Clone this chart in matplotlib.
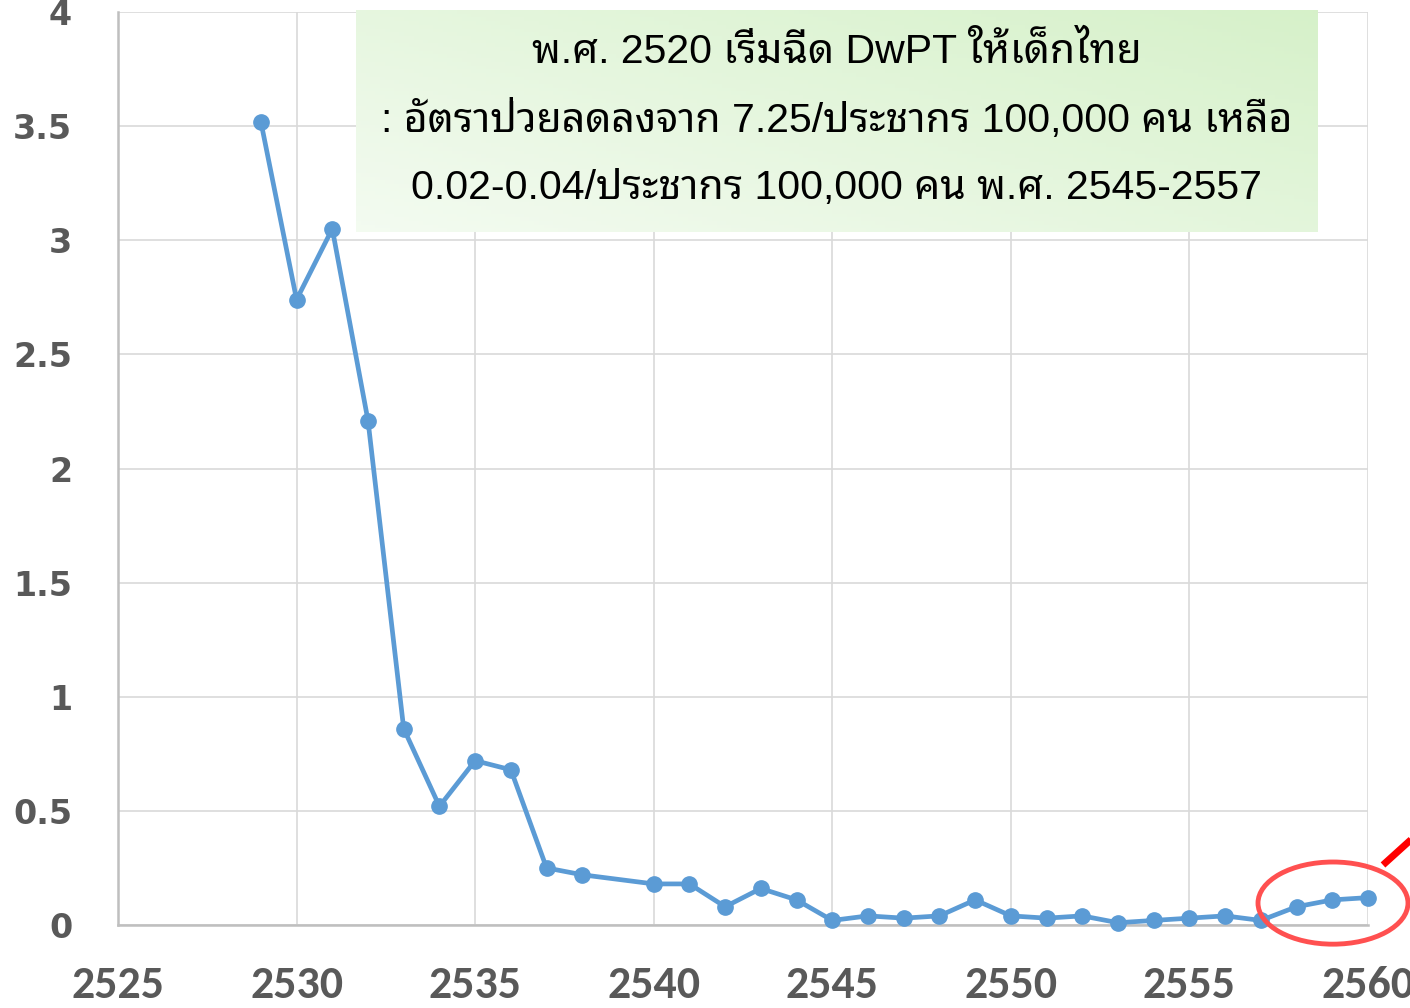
import numpy as np
import matplotlib
matplotlib.use("Agg")
import matplotlib.pyplot as plt
from matplotlib.patches import Ellipse

# incidence per 100,000 by Buddhist-era year (2539 missing in source)
years = [2529, 2530, 2531, 2532, 2533, 2534, 2535, 2536, 2537, 2538,
         2540, 2541, 2542, 2543, 2544, 2545, 2546, 2547, 2548, 2549,
         2550, 2551, 2552, 2553, 2554, 2555, 2556, 2557, 2558, 2559, 2560]
rates = [3.52, 2.74, 3.05, 2.21, 0.86, 0.52, 0.72, 0.68, 0.25, 0.22,
         0.18, 0.18, 0.08, 0.16, 0.11, 0.02, 0.04, 0.03, 0.04, 0.11,
         0.04, 0.03, 0.04, 0.01, 0.02, 0.03, 0.04, 0.02, 0.08, 0.11, 0.12]
xticks = [2525, 2530, 2535, 2540, 2545, 2550, 2555, 2560]
yticks = [0, 0.5, 1, 1.5, 2, 2.5, 3, 3.5, 4]
ylabels = ['0', '0.5', '1', '1.5', '2', '2.5', '3', '3.5', '4']
note_lines = ["พ.ศ. 2520 เริ่มฉีด DwPT ให้เด็กไทย",
              ": อัตราป่วยลดลงจาก 7.25/ประชากร 100,000 คน เหลือ",
              "0.02-0.04/ประชากร 100,000 คน พ.ศ. 2545-2557"]

W, H = 1410, 1008
fig = plt.figure(figsize=(W/100, H/100), dpi=100)
ax = fig.add_axes([118/W, 1-925/H, 1250/W, 913/H])

ax.plot(years, rates, color='#5b9bd5', lw=3.4, marker='o', ms=11,
        zorder=3, clip_on=False)

ax.set_xlim(2525, 2560)
ax.set_ylim(0, 4)
ax.set_xticks(xticks)
ax.set_yticks(yticks)
ax.set_yticklabels(ylabels)
ax.grid(True, color='#d9d9d9', lw=1.2)
ax.set_axisbelow(True)
for s in ['top', 'right']:
    ax.spines[s].set_visible(False)
for s in ['left', 'bottom']:
    ax.spines[s].set_color('#bfbfbf')
    ax.spines[s].set_linewidth(1.8)
ax.tick_params(length=0)
ax.tick_params(axis='x', pad=29)
ax.tick_params(axis='y', pad=33)
for t in ax.get_xticklabels():
    t.set_fontfamily(['Carlito', 'DejaVu Sans'])
    t.set_fontweight('bold')
    t.set_fontsize(33)
    t.set_color('#595959')
for t in ax.get_yticklabels():
    t.set_fontfamily('DejaVu Sans')
    t.set_fontweight('bold')
    t.set_fontsize(24)
    t.set_color('#595959')

# note box with soft green gradient
bx = fig.add_axes([356/W, 1-232/H, 962/W, 222/H])
gx = np.linspace(0, 1, 200)
gy = np.linspace(0, 1, 60)
GX, GY = np.meshgrid(gx, gy)
t = np.clip(0.55*GX + 0.45*GY, 0, 1)[..., None]
c0 = np.array([0.955, 0.985, 0.945])
c1 = np.array([0.840, 0.945, 0.790])
img = c0*(1-t) + c1*t
bx.imshow(img, extent=[0, 1, 0, 1], origin='lower', aspect='auto')
bx.set_xlim(0, 1)
bx.set_ylim(0, 1)
bx.axis('off')
for i, line in enumerate(note_lines):
    bx.text(0.5, 0.81 - i*0.305, line, ha='center', va='center', fontsize=29.5,
            family=['Liberation Sans', 'Noto Sans Thai Looped', 'DejaVu Sans'],
            color='black')

# highlight of the latest points
ax.add_patch(Ellipse((2559.02, 0.096), 4.2, 0.36, fill=False, ec='#ff5050',
                     lw=3.5, clip_on=False, zorder=4))
ax.plot([2560.42, 2561.6], [0.263, 0.43], color='red', lw=5,
        clip_on=False, zorder=4, solid_capstyle='butt')

fig.savefig("out.png", dpi=100)
